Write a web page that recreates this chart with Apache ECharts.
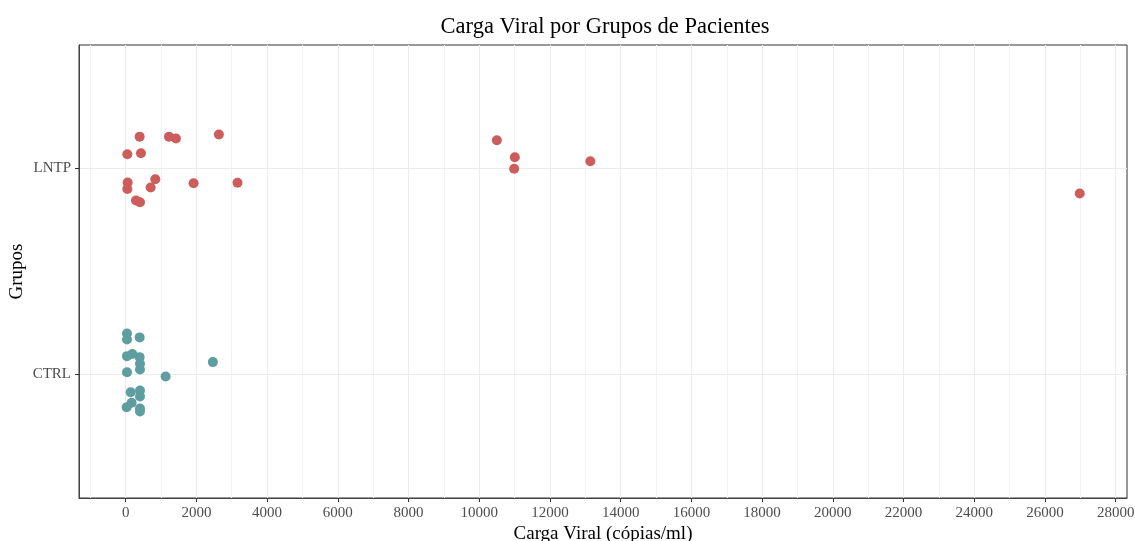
<!DOCTYPE html>
<html>
<head>
<meta charset="utf-8">
<script src="https://cdn.jsdelivr.net/npm/echarts@6/dist/echarts.min.js"></script>
<style>html,body{margin:0;padding:0;background:#fff}#c{width:1135px;height:541px}</style>
</head>
<body>
<div id="c"></div>
<script>
// Categories (y positions 1 = CTRL, 2 = LNTP)
var groups = ['CTRL', 'LNTP'];
// LNTP: viral load and jittered vertical position
var lntpX = [395, 1224, 1421, 2636, 47, 433, 56, 47, 838, 706, 1921, 3163, 292, 405, 10498, 11006, 10987, 13142, 26983];
var lntpY = [2.155, 2.154, 2.146, 2.165, 2.069, 2.074, 1.932, 1.901, 1.948, 1.908, 1.929, 1.931, 1.845, 1.836, 2.137, 2.055, 1.999, 2.035, 1.879];
// CTRL
var ctrlX = [37, 37, 395, 37, 189, 395, 405, 405, 37, 1130, 2466, 141, 405, 405, 169, 28, 405, 405];
var ctrlY = [1.199, 1.170, 1.180, 1.089, 1.099, 1.084, 1.052, 1.024, 1.011, 0.990, 1.060, 0.914, 0.922, 0.893, 0.863, 0.841, 0.835, 0.820];
// Tick values
var xMajorTicks = [0,2000,4000,6000,8000,10000,12000,14000,16000,18000,20000,22000,24000,26000,28000];
var xMinorTicks = [-1000,1000,3000,5000,7000,9000,11000,13000,15000,17000,19000,21000,23000,25000,27000];
var yTicks = [1, 2];

function pairs(xs, ys){ return xs.map(function(v,i){ return [v, ys[i]]; }); }

var font = 'Liberation Serif';
var chart = echarts.init(document.getElementById('c'), null, {renderer:'canvas'});
chart.setOption({
  backgroundColor: '#ffffff',
  animation: false,
  title: {
    text: 'Carga Viral por Grupos de Pacientes',
    left: 600, top: 11, textAlign: 'center',
    textStyle: {fontFamily: font, fontSize: 22.5, fontWeight: 'normal', color: '#000'}
  },
  grid: {left: 79, right: 8, top: 45, bottom: 43, containLabel: false, outerBoundsMode: 'none',
    show: true, borderColor: '#333333', borderWidth: 1, backgroundColor: 'transparent'},
  xAxis: {
    type: 'value', min: -1320, max: 28320,
    name: 'Carga Viral (cópias/ml)', nameLocation: 'middle', nameGap: 27, nameMoveOverlap: false,
    nameTextStyle: {fontFamily: font, fontSize: 19, color: '#000'},
    axisLine: {show: true, onZero: false, lineStyle: {color: '#444444', width: 1}},
    axisTick: {show: true, length: 4, customValues: xMajorTicks, lineStyle: {color: '#333333'}},
    axisLabel: {customValues: xMajorTicks, fontFamily: font, fontSize: 15, color: '#4D4D4D', margin: 8,
      hideOverlap: false, formatter: function(v){ return String(v); }},
    splitLine: {show: false},
    minorSplitLine: {show: false}
  },
  yAxis: {
    type: 'value', min: 0.4, max: 2.6,
    name: 'Grupos', nameLocation: 'middle', nameGap: 52, nameMoveOverlap: false,
    nameTextStyle: {fontFamily: font, fontSize: 19, color: '#000'},
    axisLine: {show: true, onZero: false, lineStyle: {color: '#444444', width: 1}},
    axisTick: {show: true, length: 4, customValues: yTicks, lineStyle: {color: '#333333'}},
    axisLabel: {customValues: yTicks, fontFamily: font, fontSize: 15, color: '#4D4D4D', margin: 8,
      formatter: function(v){ return groups[Math.round(v) - 1] || ''; }},
    splitLine: {show: false}
  },
  series: [
    {
      type: 'scatter', data: [], silent: true, z: 0,
      markLine: {
        silent: true, symbol: 'none', animation: false, z: 0,
        label: {show: false},
        data: xMinorTicks.map(function(v){ return {xAxis: v, lineStyle: {color: '#F2F2F2', width: 1, type: 'solid'}}; })
          .concat(xMajorTicks.map(function(v){ return {xAxis: v, lineStyle: {color: '#EBEBEB', width: 1, type: 'solid'}}; }))
          .concat(yTicks.map(function(v){ return {yAxis: v, lineStyle: {color: '#EBEBEB', width: 1, type: 'solid'}}; }))
      }
    },
    {
      name: 'LNTP', type: 'scatter', z: 5, symbolSize: 10,
      itemStyle: {color: '#CD5C5C', opacity: 1},
      data: pairs(lntpX, lntpY)
    },
    {
      name: 'CTRL', type: 'scatter', z: 5, symbolSize: 10,
      itemStyle: {color: '#5F9EA0', opacity: 1},
      data: pairs(ctrlX, ctrlY)
    }
  ]
});
</script>
</body>
</html>
